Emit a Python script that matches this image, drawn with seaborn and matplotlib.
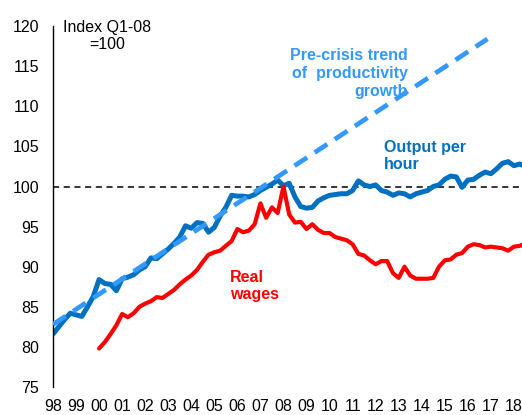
import numpy as np
import pandas as pd
import matplotlib
matplotlib.use("Agg")
import matplotlib.pyplot as plt
import seaborn as sns

# quarterly index, Q1-08 = 100
output_start = 1998.0
output_per_hour = [
    81.6, 82.5, 83.4, 84.2, 84.0, 83.8, 85.0, 86.3,   # 98-99
    88.4, 87.9, 87.8, 87.0, 88.5, 88.7, 89.0, 89.6,   # 00-01
    90.0, 91.1, 91.0, 91.6, 92.2, 92.9, 93.7, 95.1,   # 02-03
    94.8, 95.5, 95.4, 94.3, 94.9, 96.3, 97.4, 98.9,   # 04-05
    98.8, 98.8, 98.7, 99.0, 99.5, 99.9, 100.3, 100.8, # 06-07
    100.1, 100.4, 98.7, 97.5, 97.3, 97.4, 98.2, 98.6, # 08-09
    98.9, 99.0, 99.1, 99.1, 99.5, 100.7, 100.2, 100.0, # 10-11
    100.2, 99.5, 99.3, 98.9, 99.2, 99.1, 98.7, 99.1,  # 12-13
    99.3, 99.5, 100.0, 100.2, 100.9, 101.3, 101.2, 99.9, # 14-15
    100.8, 100.9, 101.4, 101.8, 101.6, 102.2, 102.9, 103.1, # 16-17
    102.6, 102.8, 102.5,                              # 18
]

wages_start = 2000.0
real_wages = [
    79.8, 80.6, 81.6, 82.7, 84.1, 83.7, 84.2, 85.0,   # 00-01
    85.4, 85.7, 86.2, 86.1, 86.6, 87.1, 87.8, 88.4,   # 02-03
    88.9, 89.6, 90.6, 91.5, 91.8, 92.0, 92.6, 93.2,   # 04-05
    94.7, 94.3, 94.5, 95.3, 97.9, 96.1, 97.4, 96.7,   # 06-07
    100.0, 96.5, 95.5, 95.6, 94.7, 95.3, 94.6, 94.2,  # 08-09
    94.2, 93.7, 93.5, 93.3, 92.8, 91.6, 91.4, 90.8,   # 10-11
    90.3, 90.7, 90.7, 89.2, 88.6, 90.0, 88.9, 88.5,   # 12-13
    88.5, 88.5, 88.6, 90.0, 90.8, 90.9, 91.5, 91.7,   # 14-15
    92.5, 92.8, 92.7, 92.4, 92.5, 92.4, 92.3, 92.0,   # 16-17
    92.5, 92.6, 92.9,                                 # 18
]

# pre-crisis productivity trend, end points
trend_years = [1998.0, 2016.85]
trend_vals = [82.8, 118.4]

years = list(range(1998, 2019))
year_labels = [f"{y % 100:02d}" for y in years]

blue = "#0070C0"
light_blue = "#3399FF"
red = "#FF0000"

df_out = pd.DataFrame({"t": output_start + np.arange(len(output_per_hour)) / 4,
                       "v": output_per_hour})
df_wag = pd.DataFrame({"t": wages_start + np.arange(len(real_wages)) / 4,
                       "v": real_wages})
df_trend = pd.DataFrame({"t": trend_years, "v": trend_vals})

sns.set_style("white")
plt.rcParams["font.family"] = ["Liberation Sans", "DejaVu Sans"]

fig = plt.figure(figsize=(5.22, 4.15), dpi=100)
ax = fig.add_axes([0.1015, 0.0675, 0.8985, 0.8695])

ax.axhline(100, color="black", lw=1.1, ls=(0, (4, 3)), zorder=1)
sns.lineplot(data=df_out, x="t", y="v", ax=ax, color=blue, lw=3.6, zorder=2)
sns.lineplot(data=df_wag, x="t", y="v", ax=ax, color=red, lw=3.0, zorder=3)
sns.lineplot(data=df_trend, x="t", y="v", ax=ax, color=light_blue, lw=3.4,
             linestyle=(0, (3.2, 1.9)), zorder=4)

ax.set_xlim(1998, 2018.35)
ax.set_ylim(75, 120)
ax.set_yticks(range(75, 121, 5))
ax.set_xticks(years)
ax.set_xticklabels(year_labels)
ax.tick_params(axis="both", length=0, labelsize=11.5, colors="black")
ax.tick_params(axis="y", pad=10)
ax.tick_params(axis="x", pad=9)
ax.set_xlabel("")
ax.set_ylabel("")

for s in ["top", "right", "bottom"]:
    ax.spines[s].set_visible(False)
ax.spines["left"].set_color("black")
ax.spines["left"].set_linewidth(1.0)

ax.text(0.206, 0.952, "Index Q1-08\n=100", transform=fig.transFigure,
        ha="center", va="top", fontsize=11.5, color="black", linespacing=1.15)
ax.text(0.782, 0.885, "Pre-crisis trend\nof  productivity\ngrowth",
        transform=fig.transFigure, ha="right", va="top", fontsize=11.5,
        fontweight="bold", color=light_blue, linespacing=1.25)
ax.text(0.735, 0.663, "Output per\nhour", transform=fig.transFigure,
        ha="left", va="top", fontsize=11.5, fontweight="bold", color=blue,
        linespacing=1.2)
ax.text(0.44, 0.35, "Real\nwages", transform=fig.transFigure,
        ha="left", va="top", fontsize=11.5, fontweight="bold", color=red,
        linespacing=1.2)

plt.savefig("out.png", dpi=100)
